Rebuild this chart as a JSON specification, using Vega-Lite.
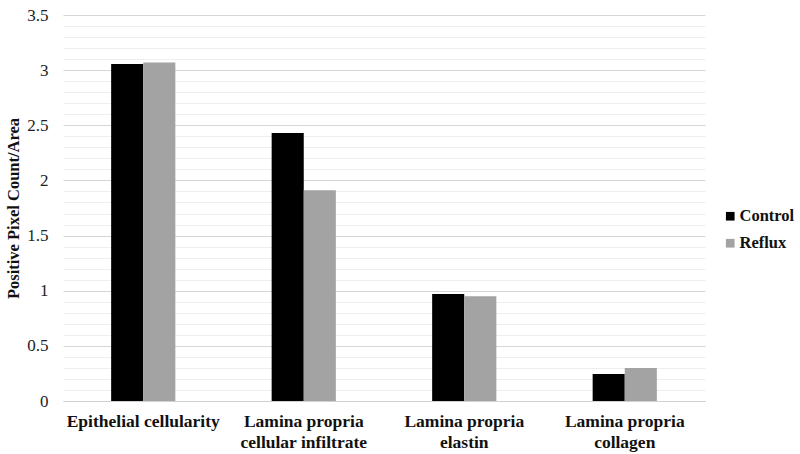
{
  "$schema": "https://vega.github.io/schema/vega-lite/v6.json",
  "width": 642,
  "height": 386,
  "autosize": {"type": "none"},
  "padding": {"left": 63, "top": 15, "right": 95, "bottom": 53},
  "background": "white",
  "data": {
    "values": [
      {"category": "Epithelial cellularity", "group": "Control", "value": 3.055},
      {"category": "Epithelial cellularity", "group": "Reflux", "value": 3.07},
      {"category": "Lamina propria|cellular infiltrate", "group": "Control", "value": 2.43},
      {"category": "Lamina propria|cellular infiltrate", "group": "Reflux", "value": 1.91},
      {"category": "Lamina propria|elastin", "group": "Control", "value": 0.97},
      {"category": "Lamina propria|elastin", "group": "Reflux", "value": 0.95},
      {"category": "Lamina propria|collagen", "group": "Control", "value": 0.245},
      {"category": "Lamina propria|collagen", "group": "Reflux", "value": 0.30}
    ]
  },
  "mark": {"type": "bar"},
  "encoding": {
    "x": {
      "field": "category",
      "type": "nominal",
      "sort": null,
      "scale": {"paddingInner": 0.6, "paddingOuter": 0.3},
      "axis": {
        "title": null,
        "labelAngle": 0,
        "labelExpr": "split(datum.label, '|')",
        "labelFontWeight": "bold",
        "labelFontSize": 17.5,
        "labelColor": "#111111",
        "labelPadding": 11,
        "labelLineHeight": 21,
        "ticks": false,
        "domainColor": "#d0d0d0",
        "domainWidth": 1.2,
        "grid": false
      }
    },
    "xOffset": {"field": "group", "type": "nominal", "sort": ["Control", "Reflux"]},
    "y": {
      "field": "value",
      "type": "quantitative",
      "scale": {"domain": [0, 3.5], "nice": false},
      "axis": {
        "title": "Positive Pixel Count/Area",
        "titleFontWeight": "bold",
        "titleFontSize": 16.5,
        "titleColor": "#111111",
        "titlePadding": 5,
        "values": [0, 0.1, 0.2, 0.3, 0.4, 0.5, 0.6, 0.7, 0.8, 0.9, 1, 1.1, 1.2, 1.3, 1.4, 1.5, 1.6, 1.7, 1.8, 1.9, 2, 2.1, 2.2, 2.3, 2.4, 2.5, 2.6, 2.7, 2.8, 2.9, 3, 3.1, 3.2, 3.3, 3.4, 3.5],
        "labelExpr": "abs(datum.value*2 - round(datum.value*2)) < 0.001 ? format(datum.value, '~g') : ''",
        "labelFontSize": 17,
        "labelColor": "#222222",
        "labelPadding": 15,
        "ticks": false,
        "domain": false,
        "grid": true,
        "gridColor": {"condition": {"test": "abs(datum.value*2 - round(datum.value*2)) < 0.001", "value": "#d6d6d6"}, "value": "#efefef"},
        "gridWidth": 1
      }
    },
    "color": {
      "field": "group",
      "type": "nominal",
      "sort": ["Control", "Reflux"],
      "scale": {"domain": ["Control", "Reflux"], "range": ["#000000", "#a3a3a3"]},
      "legend": {
        "title": null,
        "orient": "none",
        "legendX": 659,
        "legendY": 193,
        "symbolType": "square",
        "symbolSize": 75,
        "symbolStrokeWidth": 0,
        "labelFontWeight": "bold",
        "labelFontSize": 16.5,
        "labelColor": "#111111",
        "labelOffset": 1,
        "rowPadding": 10
      }
    }
  },
  "config": {
    "view": {"stroke": null},
    "font": "Liberation Serif",
    "axis": {"labelFont": "Liberation Serif", "titleFont": "Liberation Serif"},
    "legend": {"labelFont": "Liberation Serif"}
  }
}
